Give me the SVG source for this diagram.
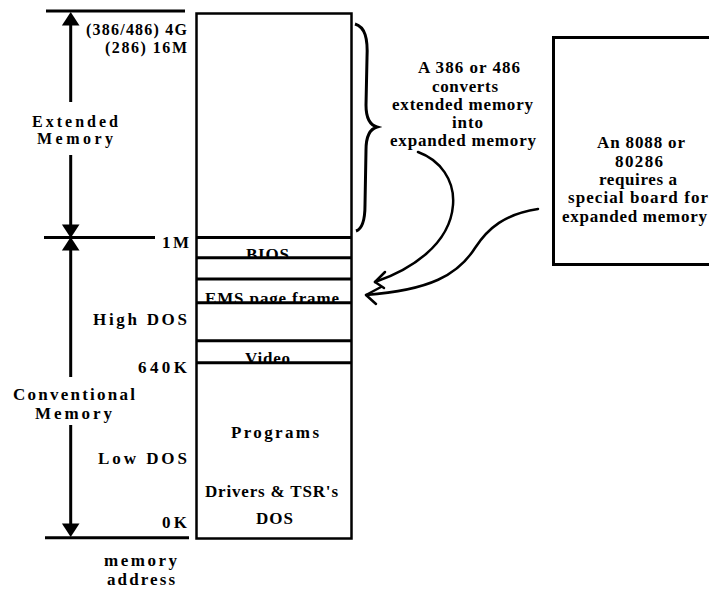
<svg xmlns="http://www.w3.org/2000/svg" width="709" height="590" viewBox="0 0 709 590">
<style>
text{font-family:"Liberation Serif","Times New Roman",serif;font-weight:bold;font-size:17px;fill:#000}
.sm{font-size:16px}
.ln{stroke:#000;stroke-width:3;fill:none}
.bx{stroke:#000;stroke-width:2.5;fill:#fff}
.cv{stroke:#000;stroke-width:2.5;fill:none;stroke-linecap:round;stroke-linejoin:round}
</style>
<defs>
<clipPath id="cBios"><rect x="196" y="238" width="156" height="20"/></clipPath>
<clipPath id="cEms"><rect x="196" y="279" width="156" height="24"/></clipPath>
<clipPath id="cVid"><rect x="196" y="341" width="156" height="22"/></clipPath>
</defs>
<rect width="709" height="590" fill="#fff"/>

<g id="memory-map">
<rect class="bx" x="196.5" y="13.5" width="155" height="525"/>
<text x="246" y="260" textLength="43" lengthAdjust="spacing" clip-path="url(#cBios)">BIOS</text>
<text x="205" y="304" textLength="134" lengthAdjust="spacing" clip-path="url(#cEms)">EMS page frame</text>
<text x="245" y="364" textLength="45" lengthAdjust="spacing" clip-path="url(#cVid)">Video</text>
<line class="ln" x1="196" y1="237.5" x2="352" y2="237.5"/>
<line class="ln" x1="196" y1="257.7" x2="352" y2="257.7"/>
<line class="ln" x1="196" y1="279" x2="352" y2="279"/>
<line class="ln" x1="196" y1="302.7" x2="352" y2="302.7"/>
<line class="ln" x1="196" y1="340.7" x2="352" y2="340.7"/>
<line class="ln" x1="196" y1="362.7" x2="352" y2="362.7"/>
<text x="231" y="438" textLength="88" lengthAdjust="spacing">Programs</text>
<text x="205" y="497" textLength="133" lengthAdjust="spacing">Drivers &amp; TSR's</text>
<text x="256" y="524" textLength="37" lengthAdjust="spacing">DOS</text>
</g>

<g id="address-axis">
<line class="ln" x1="46" y1="11" x2="185" y2="11"/>
<line class="ln" x1="44" y1="237.5" x2="155" y2="237.5"/>
<line class="ln" x1="45" y1="537.7" x2="189" y2="537.7"/>
<text class="sm" x="86" y="35" textLength="101" lengthAdjust="spacing">(386/486) 4G</text>
<text class="sm" x="105" y="53" textLength="82" lengthAdjust="spacing">(286) 16M</text>
<text x="162" y="248" textLength="27" lengthAdjust="spacing">1M</text>
<text x="93" y="325" textLength="94" lengthAdjust="spacing">High DOS</text>
<text x="138" y="373" textLength="49" lengthAdjust="spacing">640K</text>
<text x="98" y="464" textLength="89" lengthAdjust="spacing">Low DOS</text>
<text x="162" y="528" textLength="25" lengthAdjust="spacing">0K</text>
<text x="104" y="566" textLength="73" lengthAdjust="spacing">memory</text>
<text x="107" y="585" textLength="68" lengthAdjust="spacing">address</text>
</g>

<g id="extended-memory">
<text class="sm" x="32" y="127" textLength="86" lengthAdjust="spacing">Extended</text>
<text class="sm" x="37" y="144" textLength="76" lengthAdjust="spacing">Memory</text>
</g>

<g id="conventional-memory">
<text x="13" y="400" textLength="122" lengthAdjust="spacing">Conventional</text>
<text x="35" y="419" textLength="77" lengthAdjust="spacing">Memory</text>
</g>

<g id="conversion-note">
<text x="418" y="73" textLength="102" lengthAdjust="spacing">A 386 or 486</text>
<text x="432" y="92" textLength="66" lengthAdjust="spacing">converts</text>
<text x="392" y="110" textLength="141" lengthAdjust="spacing">extended memory</text>
<text x="452" y="128" textLength="31" lengthAdjust="spacing">into</text>
<text x="390" y="146" textLength="146" lengthAdjust="spacing">expanded memory</text>
</g>

<g id="board-note">
<rect x="553.5" y="37.5" width="180" height="227" fill="#fff" stroke="#000" stroke-width="3"/>
<text x="597" y="148" textLength="88" lengthAdjust="spacing">An 8088 or</text>
<text x="615" y="167" textLength="48" lengthAdjust="spacing">80286</text>
<text x="599" y="185" textLength="78" lengthAdjust="spacing">requires a</text>
<text x="568" y="203" textLength="140" lengthAdjust="spacing">special board for</text>
<text x="562" y="222" textLength="145" lengthAdjust="spacing">expanded memory</text>
</g>

<g id="connectors">
<line class="ln" x1="70.7" y1="24" x2="70.7" y2="102"/>
<polygon points="70.7,12 79.5,25.5 61.9,25.5"/>
<line class="ln" x1="70.7" y1="155" x2="70.7" y2="226"/>
<polygon points="70.7,238 79.5,224.5 61.9,224.5"/>
<line class="ln" x1="70.7" y1="249" x2="70.7" y2="377"/>
<polygon points="70.7,237 79.5,250.5 61.9,250.5"/>
<line class="ln" x1="70.7" y1="425" x2="70.7" y2="525"/>
<polygon points="70.7,537 79.5,523.5 61.9,523.5"/>
<path d="M355,24 C365,27 368,38 367,58 L366,105 C366,118 370,125 377,127 C370,129 366,136 366,150 L365,205 C365,221 362,229 356,231" fill="none" stroke="#000" stroke-width="3"/>
<path class="cv" d="M418,152 C440,160 455,180 453,205 C450,245 410,270 375,282"/>
<path class="cv" d="M385,272 L375,282 L384,288"/>
<path class="cv" d="M538,209 C505,214 488,228 475,248 C458,275 430,290 366,295"/>
<path class="cv" d="M381,287 L366,295 L376,304"/>
</g>
</svg>
